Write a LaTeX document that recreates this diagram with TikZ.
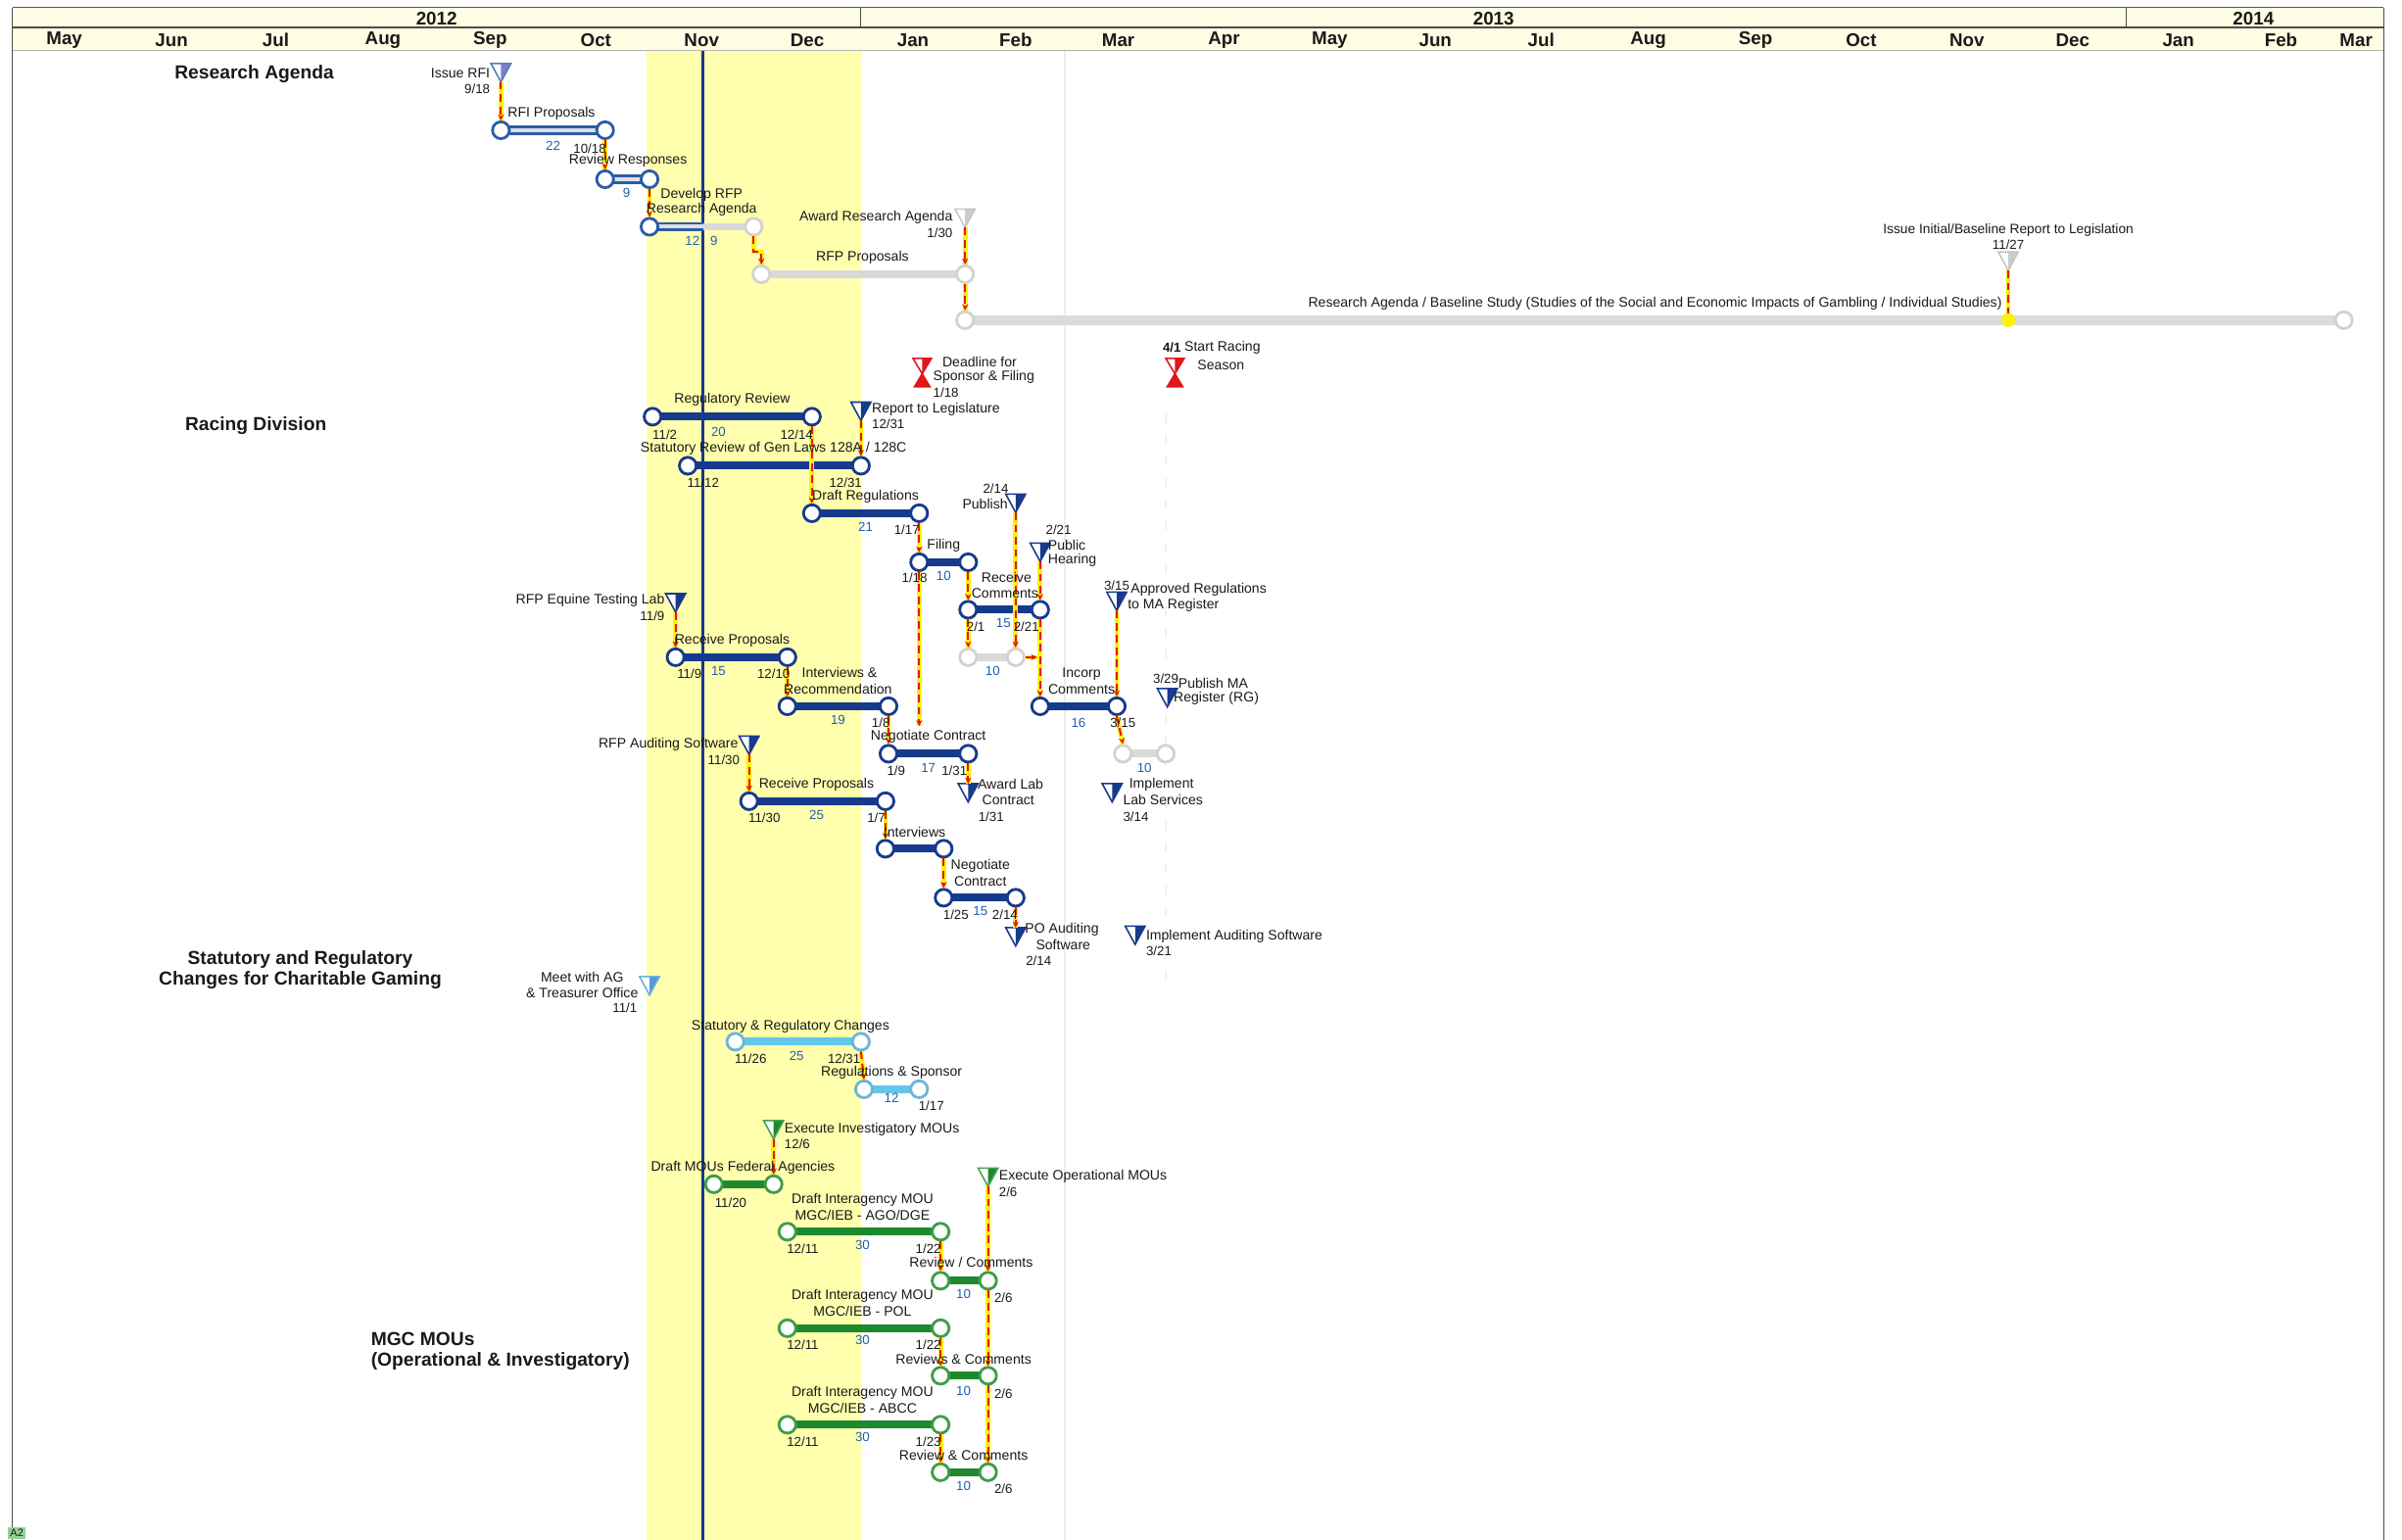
\documentclass[tikz,border=0pt]{standalone}
\usepackage{fontspec}
\setmainfont{Liberation Sans}
\usetikzlibrary{arrows.meta}
\definecolor{navy}{HTML}{173A8C}
\definecolor{rablue}{HTML}{2A5CA8}
\definecolor{lbbar}{HTML}{62C6E8}
\definecolor{lbout}{HTML}{6DB5D6}
\definecolor{grn}{HTML}{1C8A2C}
\definecolor{band}{HTML}{FFFFAE}
\definecolor{hdr}{HTML}{FFFDE3}
\definecolor{numblue}{HTML}{1F5FB0}
\definecolor{ylw}{HTML}{FFF200}
\definecolor{rd}{HTML}{E3161B}
\definecolor{txt}{HTML}{1A1A1A}
\tikzset{
 lbl/.style={font=\fontsize{9}{10}\selectfont, inner sep=0pt, text=txt, align=center},
 num/.style={font=\fontsize{8.5}{9}\selectfont, inner sep=0pt, text=numblue},
 dt/.style={font=\fontsize{8.5}{9}\selectfont, inner sep=0pt, text=txt},
 hd/.style={font=\fontsize{12.3}{13.5}\selectfont\bfseries, inner sep=0pt, align=center, text=txt},
 mon/.style={font=\fontsize{12}{12}\selectfont\bfseries, inner sep=0pt, text=txt},
 nvc/.style={circle, draw=navy, fill=white, line width=1.8pt, minimum size=11pt, inner sep=0pt},
 nvbar/.style={draw=navy, line width=5pt},
 rac/.style={circle, draw=rablue, fill=white, line width=1.8pt, minimum size=11pt, inner sep=0pt},
 rabar/.style={draw=rablue, line width=6pt, postaction={draw=gray!25, line width=2.6pt}},
 gyc/.style={circle, draw=gray!35, fill=white, line width=1.8pt, minimum size=11pt, inner sep=0pt},
 gybar/.style={draw=gray!30, line width=5pt},
 lbc/.style={circle, draw=lbout, fill=white, line width=1.8pt, minimum size=11pt, inner sep=0pt},
 lbbar/.style={draw=lbbar, line width=5pt},
 gnc/.style={circle, draw=grn!85, fill=white, line width=1.8pt, minimum size=11pt, inner sep=0pt},
 gnbar/.style={draw=grn, line width=5pt},
 depy/.style={draw=ylw, line width=3pt},
 depr/.style={draw=rd, line width=1.3pt, dash pattern=on 5pt off 3pt, -{Stealth[length=4pt,width=4pt]}},
}
\newcommand\gtask[5]{%
 \draw[#5bar] (#2,#4) -- (#3,#4);
 \node[#5c] (#1s) at (#2,#4) {};
 \node[#5c] (#1e) at (#3,#4) {};}
\newcommand\mstone[5]{% name x y fill draw
 \fill[white] (#2-6.5,#3-5.5) -- (#2+6.5,#3-5.5) -- (#2,#3+6.5) -- cycle;
 \fill[#4] (#2,#3-5.5) -- (#2+6.5,#3-5.5) -- (#2,#3+6.5) -- cycle;
 \draw[#5, line width=1pt] (#2-6.5,#3-5.5) -- (#2+6.5,#3-5.5) -- (#2,#3+6.5) -- cycle;
 \coordinate (#1) at (#2,#3+6.5);
 \coordinate (#1t) at (#2,#3-5.5);}
\newcommand\hglass[3]{% name x y
 \fill[white] (#2-6,#3-6) -- (#2+6,#3-6) -- (#2,#3+4) -- cycle;
 \fill[rd] (#2,#3-6) -- (#2+6,#3-6) -- (#2,#3+4) -- cycle;
 \draw[rd, line width=1pt] (#2-6,#3-6) -- (#2+6,#3-6) -- (#2,#3+4) -- cycle;
 \fill[rd] (#2,#3+3) -- (#2-6,#3+13) -- (#2+6,#3+13) -- cycle;
 \coordinate (#1) at (#2,#3+13);}
\newcommand\gdep[1]{\draw[depy] #1; \draw[depr] #1;}
\begin{document}
\begin{tikzpicture}[x=1pt,y=-1pt]
\useasboundingbox (0,0) rectangle (1568,1005);
\fill[white] (0,0) rectangle (1568,1005);
\fill[band] (422,33) rectangle (562,1005);
\draw[gray!15, line width=1pt] (695,33) -- (695,1005);
\draw[gray!12, line width=0.8pt, dash pattern=on 6pt off 8pt] (761,270) -- (761,640);
% header
\fill[hdr] (8,5) rectangle (1556,33);
\draw[gray!70!black, line width=0.8pt] (8,5) -- (1556,5);
\draw[gray!60!black, line width=1.6pt] (8,18) -- (1556,18);
\draw[gray!60, line width=0.8pt] (8,33) -- (1556,33);
\draw[gray!60!black, line width=0.8pt] (562,5) -- (562,18) (1388,5) -- (1388,18);
\draw[gray!60!black, line width=0.9pt] (8,5) -- (8,1005) (1556,5) -- (1556,1005);
\node[mon] (y1) at (285,12) {2012};
\node[mon] (y2) at (975,12) {2013};
\node[mon] (y3) at (1471,12) {2014};
\foreach \m/\x [count=\i] in {May/42,Jun/112,Jul/180,Aug/250,Sep/320,Oct/389,Nov/458,Dec/527,Jan/596,Feb/663,Mar/730,Apr/799,May/868,Jun/937,Jul/1006,Aug/1076,Sep/1146,Oct/1215,Nov/1284,Dec/1353,Jan/1422,Feb/1489,Mar/1538}
  \node[mon] (m\i) at (\x,26) {\m};
% today line
\draw[navy, line width=1.8pt] (459,33) -- (459,1005);
% section headers
\node[hd] (h1) at (166,48) {Research Agenda};
\node[hd] (h2) at (167,278) {Racing Division};
\node[hd] (h3) at (196,633) {Statutory and Regulatory\\Changes for Charitable Gaming};
\node[hd, anchor=west, align=left] (h4) at (242,882) {MGC MOUs\\(Operational \& Investigatory)};

% ===== Research Agenda =====
\mstone{msRFI}{327}{47}{blue!45!gray!70}{rablue!80}
\gtask{rfi}{327}{395}{85}{ra}
\gtask{rev}{395}{424}{117}{ra}
\draw[rabar] (424,148) -- (459,148);
\draw[gybar] (459,148) -- (492,148);
\node[rac] (devs) at (424,148) {};
\node[gyc] (deve) at (492,148) {};
\gtask{rfpp}{497}{630}{179}{gy}
\mstone{msAward}{630}{142}{gray!40}{gray!45}
\draw[draw=gray!28, line width=6pt] (630,209) -- (1530,209);
\node[gyc] (studys) at (630,209) {};
\node[gyc] (studye) at (1530,209) {};
\mstone{msIssue}{1311}{170}{gray!40}{gray!45}
\coordinate (issueEnd) at (1311,209);
\gdep{(msRFI) -- (rfis.north)}
\gdep{(rfie.south) -- (revs.north)}
\gdep{(reve.south) -- (devs.north)}
\gdep{(deve.south) -- ++(0,10) -| (rfpps.north)}
\gdep{(msAward) -- (rfppe.north)}
\gdep{(rfppe.south) -- (studys.north)}
\gdep{(msIssue) -- (issueEnd)}
\fill[ylw] (issueEnd) circle (4.5pt);
\node[lbl, anchor=east] (t1) at (320,48) {Issue RFI};
\node[dt, anchor=east] (t2) at (320,58) {9/18};
\node[lbl] (t3) at (360,74) {RFI Proposals};
\node[num] (t4) at (361,95) {22};
\node[dt] (t5) at (385,97) {10/18};
\node[lbl] (t6) at (410,105) {Review Responses};
\node[num] (t7) at (409,126) {9};
\node[lbl] (t8) at (458,127) {Develop RFP};
\node[lbl] (t9) at (458,137) {Research Agenda};
\node[num] (t10) at (452,157) {12};
\node[num] (t11) at (466,157) {9};
\node[lbl] (t12) at (563,168) {RFP Proposals};
\node[lbl, anchor=east] (t13) at (622,142) {Award Research Agenda};
\node[dt, anchor=east] (t14) at (622,152) {1/30};
\node[lbl, anchor=east, font=\fontsize{9}{9.5}\selectfont] (t15) at (1307,198) {Research Agenda / Baseline Study (Studies of the Social and Economic Impacts of Gambling / Individual Studies)};
\node[lbl, font=\fontsize{8.8}{9}\selectfont] (t16) at (1311,150) {Issue Initial/Baseline Report to Legislation};
\node[dt] (t17) at (1311,160) {11/27};

% ===== Racing Division =====
\hglass{hgDead}{602}{240}
\hglass{hgRace}{767}{240}
\node[lbl, anchor=west] (r1) at (615,236) {Deadline for};
\node[lbl, anchor=west] (r2) at (609,246) {Sponsor \& Filing};
\node[dt, anchor=west] (r3) at (609,256) {1/18};
\node[dt, font=\fontsize{8.5}{9}\selectfont\bfseries] (r4) at (765,227) {4/1};
\node[lbl] (r5) at (798,227) {Start Racing};
\node[lbl] (r6) at (797,238) {Season};

\gtask{reg}{426}{530}{272}{nv}
\mstone{msRep}{562}{268}{navy}{navy}
\gtask{stat}{449}{562}{304}{nv}
\gtask{draft}{530}{600}{335}{nv}
\gtask{fil}{600}{632}{367}{nv}
\mstone{msPub}{663}{328}{navy}{navy}
\mstone{msHear}{679}{360}{navy}{navy}
\gtask{rec}{632}{679}{398}{nv}
\gtask{gra}{632}{663}{429}{gy}
\coordinate (j1) at (677,429);
\gtask{inc}{679}{729}{461}{nv}
\mstone{msAppr}{729}{392}{navy}{navy}
\gtask{grb}{733}{761}{492}{gy}
\mstone{msPubMA}{762}{455}{navy}{navy}

\mstone{msEq}{441}{393}{navy}{navy}
\gtask{eq}{441}{514}{429}{nv}
\gtask{int}{514}{580}{461}{nv}
\gtask{neg}{580}{632}{492}{nv}
\coordinate (j2) at (600,474);
\mstone{msLab}{632}{517}{navy}{navy}
\mstone{msImpl}{726}{517}{navy}{navy}

\mstone{msAud}{489}{486}{navy}{navy}
\gtask{aud}{489}{578}{523}{nv}
\gtask{iv}{578}{616}{554}{nv}
\gtask{ngb}{616}{663}{586}{nv}
\mstone{msPO}{663}{611}{navy}{navy}
\mstone{msImpA}{741}{610}{navy}{navy}

\gdep{(rege.south) -- (drafts.north)}
\gdep{(msRep) -- (state.north)}
\gdep{(drafte.south) -- (fils.north)}
\gdep{(file.south) -- (recs.north)}
\gdep{(msPub) -- (grae.north)}
\gdep{(msHear) -- (rece.north)}
\gdep{(rece.south) -- (incs.north)}
\gdep{(recs.south) -- (gras.north)}
\gdep{(grae.east) -- (j1)}
\gdep{(msAppr) -- (ince.north)}
\gdep{(ince.south) -- (grbs.north)}
\gdep{(msEq) -- (eqs.north)}
\gdep{(eqe.south) -- (ints.north)}
\gdep{(inte.south) -- (negs.north)}
\gdep{(fils.south) -- (j2)}
\gdep{(nege.south) -- (msLabt)}
\gdep{(msAud) -- (auds.north)}
\gdep{(aude.south) -- (ivs.north)}
\gdep{(ive.south) -- (ngbs.north)}
\gdep{(ngbe.south) -- (msPOt)}

\node[lbl] (r7) at (478,261) {Regulatory Review};
\node[dt] (r8) at (434,284) {11/2};
\node[num] (r9) at (469,282) {20};
\node[dt] (r10) at (520,284) {12/14};
\node[lbl, anchor=west] (r11) at (569,267) {Report to Legislature};
\node[dt, anchor=west] (r12) at (569,277) {12/31};
\node[lbl] (r13) at (505,293) {Statutory Review of Gen Laws 128A / 128C};
\node[dt] (r14) at (459,315) {11/12};
\node[dt] (r15) at (552,315) {12/31};
\node[lbl] (r16) at (565,324) {Draft Regulations};
\node[num] (r17) at (565,344) {21};
\node[dt] (r18) at (592,346) {1/17};
\node[lbl] (r19) at (616,356) {Filing};
\node[dt] (r20) at (597,377) {1/18};
\node[num] (r21) at (616,376) {10};
\node[dt] (r22) at (650,319) {2/14};
\node[lbl, anchor=east] (r23) at (658,329) {Publish};
\node[dt] (r24) at (691,346) {2/21};
\node[lbl, anchor=west] (r25) at (684,356) {Public};
\node[lbl, anchor=west] (r26) at (684,366) {Hearing};
\node[lbl] (r27) at (657,377) {Receive};
\node[lbl] (r28) at (656,387) {Comments};
\node[dt] (r29) at (637,409) {2/1};
\node[num] (r30) at (655,407) {15};
\node[dt] (r31) at (670,409) {2/21};
\node[num] (r32) at (648,438) {10};
\node[lbl] (r33) at (706,440) {Incorp};
\node[lbl] (r34) at (706,450) {Comments};
\node[num] (r35) at (704,472) {16};
\node[dt] (r36) at (733,472) {3/15};
\node[dt] (r37) at (729,382) {3/15};
\node[lbl, anchor=west] (r38) at (738,385) {Approved Regulations};
\node[lbl, anchor=west] (r39) at (736,395) {to MA Register};
\node[num] (r40) at (747,501) {10};
\node[dt] (r41) at (761,443) {3/29};
\node[lbl, anchor=west] (r42) at (769,446) {Publish MA};
\node[lbl, anchor=west] (r43) at (766,456) {Register (RG)};

\node[lbl, anchor=east] (r44) at (434,392) {RFP Equine Testing Lab};
\node[dt, anchor=east] (r45) at (434,402) {11/9};
\node[lbl] (r46) at (478,418) {Receive Proposals};
\node[dt] (r47) at (450,440) {11/9};
\node[num] (r48) at (469,438) {15};
\node[dt] (r49) at (505,440) {12/10};
\node[lbl] (r50) at (548,439) {Interviews \&};
\node[lbl] (r51) at (547,450) {Recommendation};
\node[num] (r52) at (547,470) {19};
\node[dt] (r53) at (575,472) {1/8};
\node[lbl] (r54) at (606,481) {Negotiate Contract};
\node[dt] (r55) at (585,503) {1/9};
\node[num] (r56) at (606,501) {17};
\node[dt] (r57) at (623,503) {1/31};
\node[lbl, anchor=west] (r58) at (638,512) {Award Lab};
\node[lbl, anchor=west] (r59) at (641,522) {Contract};
\node[dt] (r60) at (647,533) {1/31};
\node[lbl, anchor=west] (r61) at (737,512) {Implement};
\node[lbl, anchor=west] (r62) at (733,522) {Lab Services};
\node[dt, anchor=west] (r63) at (733,533) {3/14};

\node[lbl, anchor=east] (r64) at (482,486) {RFP Auditing Software};
\node[dt, anchor=east] (r65) at (483,496) {11/30};
\node[lbl] (r66) at (533,512) {Receive Proposals};
\node[dt] (r67) at (499,534) {11/30};
\node[num] (r68) at (533,532) {25};
\node[dt] (r69) at (572,534) {1/7};
\node[lbl] (r70) at (597,543) {Interviews};
\node[lbl] (r71) at (640,565) {Negotiate};
\node[lbl] (r72) at (640,575) {Contract};
\node[dt] (r73) at (624,597) {1/25};
\node[num] (r74) at (640,595) {15};
\node[dt] (r75) at (656,597) {2/14};
\node[lbl, anchor=west] (r76) at (669,607) {PO Auditing};
\node[lbl] (r77) at (694,617) {Software};
\node[dt] (r78) at (678,627) {2/14};
\node[lbl, anchor=west] (r79) at (748,611) {Implement Auditing Software};
\node[dt, anchor=west] (r80) at (748,621) {3/21};

% ===== Charitable Gaming =====
\mstone{msAG}{424}{643}{cyan!60!blue!70}{lbout}
\gtask{src}{480}{562}{680}{lb}
\gtask{rs}{564}{600}{711}{lb}
\gdep{(srce.south) -- (rss.north)}
\node[lbl] (c1) at (380,638) {Meet with AG};
\node[lbl] (c2) at (380,648) {\& Treasurer Office};
\node[dt, anchor=east] (c3) at (416,658) {11/1};
\node[lbl] (c4) at (516,670) {Statutory \& Regulatory Changes};
\node[dt] (c5) at (490,691) {11/26};
\node[num] (c6) at (520,689) {25};
\node[dt] (c7) at (551,691) {12/31};
\node[lbl] (c8) at (582,700) {Regulations \& Sponsor};
\node[num] (c9) at (582,717) {12};
\node[dt] (c10) at (608,722) {1/17};

% ===== MOUs =====
\mstone{msInv}{505}{737}{grn}{grn!80}
\gtask{fed}{466}{505}{773}{gn}
\mstone{msOp}{645}{768}{grn}{grn!80}
\gtask{da}{514}{614}{804}{gn}
\gtask{rva}{614}{645}{836}{gn}
\gtask{db}{514}{614}{867}{gn}
\gtask{rvb}{614}{645}{898}{gn}
\gtask{dc}{514}{614}{930}{gn}
\gtask{rvc}{614}{645}{961}{gn}
\gdep{(msInv) -- (fede.north)}
\gdep{(msOp) -- (rvae.north)}
\gdep{(rvae.south) -- (rvbe.north)}
\gdep{(rvbe.south) -- (rvce.north)}
\gdep{(dae.south) -- (rvas.north)}
\gdep{(dbe.south) -- (rvbs.north)}
\gdep{(dce.south) -- (rvcs.north)}
\node[lbl, anchor=west] (g1) at (512,737) {Execute Investigatory MOUs};
\node[dt, anchor=west] (g2) at (512,747) {12/6};
\node[lbl] (g3) at (485,762) {Draft MOUs Federal Agencies};
\node[dt] (g4) at (477,785) {11/20};
\node[lbl, anchor=west] (g5) at (652,768) {Execute Operational MOUs};
\node[dt, anchor=west] (g6) at (652,778) {2/6};
\node[lbl] (g7) at (563,783) {Draft Interagency MOU};
\node[lbl] (g8) at (563,793) {MGC/IEB - AGO/DGE};
\node[dt] (g9) at (524,815) {12/11};
\node[num] (g10) at (563,813) {30};
\node[dt] (g11) at (606,815) {1/22};
\node[lbl] (g12) at (634,824) {Review / Comments};
\node[num] (g13) at (629,845) {10};
\node[dt] (g14) at (655,847) {2/6};
\node[lbl] (g15) at (563,846) {Draft Interagency MOU};
\node[lbl] (g16) at (563,856) {MGC/IEB - POL};
\node[dt] (g17) at (524,878) {12/11};
\node[num] (g18) at (563,875) {30};
\node[dt] (g19) at (606,878) {1/22};
\node[lbl] (g20) at (629,887) {Reviews \& Comments};
\node[num] (g21) at (629,908) {10};
\node[dt] (g22) at (655,910) {2/6};
\node[lbl] (g23) at (563,909) {Draft Interagency MOU};
\node[lbl] (g24) at (563,919) {MGC/IEB - ABCC};
\node[dt] (g25) at (524,941) {12/11};
\node[num] (g26) at (563,938) {30};
\node[dt] (g27) at (606,941) {1/23};
\node[lbl] (g28) at (629,950) {Review \& Comments};
\node[num] (g29) at (629,970) {10};
\node[dt] (g30) at (655,972) {2/6};

\node[fill=green!40!gray!60, text=txt, font=\fontsize{7}{7}\selectfont, inner sep=1.5pt, anchor=south west] (a2) at (5,1005) {A2};
\end{tikzpicture}
\end{document}
